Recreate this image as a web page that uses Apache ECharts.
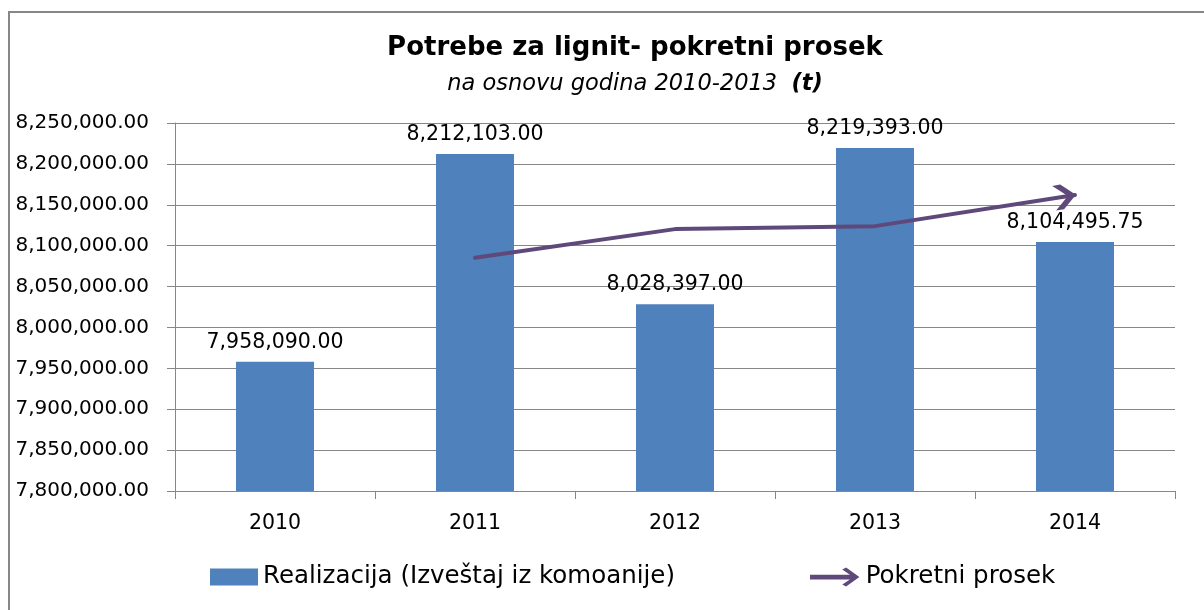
<!DOCTYPE html>
<html>
<head>
<meta charset="utf-8">
<title>Potrebe za lignit- pokretni prosek</title>
<script src="https://cdn.jsdelivr.net/npm/echarts@6/dist/echarts.min.js"></script>
<style>
html, body { margin: 0; padding: 0; background: #fff; }
#chart { width: 1204px; height: 610px; }
</style>
</head>
<body>
<div id="chart"></div>
<script>
// podaci
const years = ['2010', '2011', '2012', '2013', '2014']
const realizacija = [7958090.00, 8212103.00, 8028397.00, 8219393.00, 8104495.75]
// pokretni prosek, procitano sa slike (nema vrednosti za 2010)
const pokretniProsek = ['-', 8085097, 8120250, 8123895, 8161944]
const yMin = 7800000
const yMax = 8250000
const yStep = 50000

const barName = 'Realizacija (Izveštaj iz komoanije)'
const lineName = 'Pokretni prosek'

const font = 'DejaVu Sans'
const gray = '#878787'
const purple = '#5F497A'

function fmt(v) {
    let parts = Number(v).toFixed(2).split('.')
    parts[0] = parts[0].replace(/\B(?=(\d{3})+(?!\d))/g, ',')
    return parts.join('.')
}

const arrowIcon = 'path://M0,7.5 L42,7.5 L34,2 L38,0 L52,10 L38,20 L34,18 L42,12.5 L0,12.5 Z'
const arrowHead = 'path://M0,0 L7,0 L19,11 L7,22 L0,22 L12,11 Z'

const lineData = pokretniProsek.map((v, i) => {
    if (i === pokretniProsek.length - 1) {
        return {
            value: v,
            symbol: arrowHead,
            symbolSize: [22, 25],
            symbolKeepAspect: false,
            symbolRotate: 9,
            symbolOffset: [-10, 1.5],
            itemStyle: { color: purple, borderColor: purple, borderWidth: 0 }
        }
    }
    return v
})

const chart = echarts.init(document.getElementById('chart'))

const options = {
    animation: false,
    backgroundColor: '#fff',
    textStyle: { fontFamily: font },
    graphic: [
        {
            type: 'rect',
            silent: true,
            shape: { x: 9, y: 12, width: 1400, height: 800 },
            style: { fill: 'none', stroke: gray, lineWidth: 2 }
        },
        {
            type: 'text',
            x: 635,
            y: 48,
            style: {
                text: 'Potrebe za lignit- pokretni prosek',
                font: 'bold 26px "DejaVu Sans"',
                fill: '#000',
                align: 'center',
                verticalAlign: 'middle'
            }
        },
        {
            type: 'text',
            x: 635,
            y: 84,
            style: {
                text: '{i|na osnovu godina 2010-2013  }{b|(t)}',
                fill: '#000',
                align: 'center',
                verticalAlign: 'middle',
                rich: {
                    i: { fontFamily: font, fontStyle: 'italic', fontSize: 22.5, fill: '#000' },
                    b: { fontFamily: font, fontStyle: 'italic', fontWeight: 'bold', fontSize: 22.5, fill: '#000' }
                }
            }
        }
    ],
    legend: [
        {
            data: [{ name: barName, icon: 'rect' }],
            left: 205,
            top: 558,
            itemWidth: 48,
            itemHeight: 17,
            selectedMode: false,
            textStyle: { fontFamily: font, fontSize: 24.5, color: '#000', lineHeight: 28 }
        },
        {
            data: [{ name: lineName, icon: arrowIcon }],
            left: 805,
            top: 558,
            itemWidth: 52,
            itemHeight: 19,
            selectedMode: false,
            itemStyle: { color: purple, borderColor: purple, borderWidth: 0 },
            textStyle: { fontFamily: font, fontSize: 24.5, color: '#000', lineHeight: 28 }
        }
    ],
    grid: {
        left: 175,
        right: 29,
        top: 123,
        bottom: 119
    },
    xAxis: {
        type: 'category',
        data: years,
        axisLine: { lineStyle: { color: gray, width: 1 } },
        axisTick: { show: true, length: 8, lineStyle: { color: gray } },
        axisLabel: { fontFamily: font, fontSize: 20.5, color: '#000', margin: 22 },
        splitLine: { show: false }
    },
    yAxis: {
        type: 'value',
        min: yMin,
        max: yMax,
        interval: yStep,
        axisLine: { show: true, lineStyle: { color: gray, width: 1 } },
        axisTick: { show: true, length: 8, lineStyle: { color: gray } },
        axisLabel: {
            fontFamily: font,
            fontSize: 20,
            color: '#000',
            margin: 26,
            formatter: fmt
        },
        splitLine: { show: true, lineStyle: { color: gray, width: 1 } }
    },
    series: [
        {
            name: barName,
            type: 'bar',
            data: realizacija,
            barWidth: 78,
            itemStyle: { color: '#4F81BD' },
            label: {
                show: true,
                position: 'top',
                distance: 9,
                fontFamily: font,
                fontSize: 20.5,
                color: '#000',
                formatter: p => fmt(p.value)
            },
            z: 2
        },
        {
            name: lineName,
            type: 'line',
            data: lineData,
            symbol: 'none',
            showSymbol: true,
            connectNulls: false,
            lineStyle: { color: purple, width: 4, cap: 'round', join: 'round' },
            itemStyle: { color: purple, borderColor: purple, borderWidth: 0 },
            z: 3
        }
    ]
}

chart.setOption(options)
window.onresize = () => {
    chart.resize()
}
</script>
</body>
</html>
